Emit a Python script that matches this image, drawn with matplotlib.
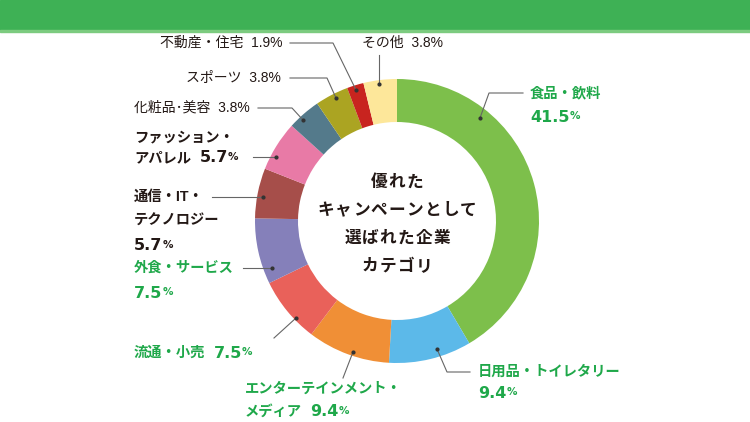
import matplotlib.pyplot as plt
from matplotlib.patches import Rectangle

plt.rcParams['font.family'] = ['Noto Sans CJK JP', 'DejaVu Sans']
label_fonts = ['Liberation Sans', 'Noto Sans CJK JP']

categories = ['食品・飲料', '日用品・トイレタリー', 'エンターテインメント・メディア', '流通・小売',
              '外食・サービス', '通信・IT・テクノロジー', 'ファッション・アパレル', '化粧品・美容',
              'スポーツ', '不動産・住宅', 'その他']
shares = [41.5, 9.4, 9.4, 7.5, 7.5, 5.7, 5.7, 3.8, 3.8, 1.9, 3.8]
colors = ['#7DBF4B', '#5CB9E9', '#F08F36', '#E9615A', '#8580BA', '#A64E4A',
          '#E87AA6', '#547A8B', '#ABA422', '#C8241F', '#FDE79A']

# label text as shown; the share goes after the last line
label_text = ['食品・飲料\n', '日用品・トイレタリー\n', 'エンターテインメント・\nメディア',
              '流通・小売', '外食・サービス\n', '通信・IT・\nテクノロジー\n',
              'ファッション・\nアパレル', '化粧品･美容', 'スポーツ',
              '不動産・住宅', 'その他']
highlight = [True, True, True, True, True, False, False, False, False, False, False]

center_title = ['優れた', 'キャンペーンとして', '選ばれた企業', 'カテゴリ']

# layout in pixels (x, y of each line, ha, big label?, leader path)
layout = [
    (530, [93, 117], 'left', True, [(480, 118), (489, 93), (523, 93)]),
    (478, [372, 393], 'left', True, [(437, 349), (447, 372), (470, 372)]),
    (245, [389, 412], 'left', True, [(353, 352), (343, 378)]),
    (134, [353], 'left', True, [(296, 318), (274, 338)]),
    (134, [268, 293], 'left', True, [(272, 268), (243, 268)]),
    (134, [197, 221, 246], 'left', True, [(263, 197), (212, 197)]),
    (134, [137, 158], 'left', True, [(276, 157), (253, 157)]),
    (134, [108], 'left', False, [(303, 120), (292, 108), (258, 108)]),
    (281, [78], 'right', False, [(336, 98), (327, 78), (290, 78)]),
    (282, [43], 'right', False, [(356, 90), (333, 43), (290, 43)]),
    (402, [43], 'center', False, [(379, 84), (379, 55)]),
]

green_txt = '#1FA84A'
dark_txt = '#231815'

fig = plt.figure(figsize=(7.5, 4.22), dpi=100)
ax = fig.add_axes([0, 0, 1, 1])

cx, cy, r_out, ring = 397, 221, 142, 43
ax.pie(shares, colors=colors, startangle=-90, counterclock=True,
       center=(cx, cy), radius=r_out,
       wedgeprops=dict(width=ring, linewidth=0))

ax.set_xlim(0, 750)
ax.set_ylim(422, 0)
ax.set_aspect('equal')
ax.axis('off')

# header bar
ax.add_patch(Rectangle((0, 0), 750, 30, color='#3EB155', zorder=5))
ax.add_patch(Rectangle((0, 30), 750, 1.5, color='#7CCB7F', zorder=5))


def big_value(x, y, anchor, col):
    num = f'{shares[i]}'
    if anchor is None:
        t = ax.text(x, y, num, ha='left', va='center', fontsize=11.5,
                    fontweight='bold', color=col, family='DejaVu Sans')
    else:
        t = ax.annotate(num, xy=(1, 0.5), xycoords=anchor, xytext=(6, 0),
                        textcoords='offset points', ha='left', va='center',
                        fontsize=11.5, fontweight='bold', color=col,
                        family='DejaVu Sans')
    ax.annotate('%', xy=(1, 0.22), xycoords=t, xytext=(0, 0),
                textcoords='offset points', va='bottom', ha='left',
                fontsize=7.5, fontweight='bold', color=col, family='DejaVu Sans')


for i, (x, ys, ha, big, path) in enumerate(layout):
    xs = [p[0] for p in path]
    yy = [p[1] for p in path]
    ax.plot(xs, yy, color='#666666', lw=0.8, zorder=6)
    ax.plot(xs[0], yy[0], 'o', color='#333333', ms=2, zorder=7)

    col = green_txt if highlight[i] else dark_txt
    lines = label_text[i].split('\n')
    if not big:
        ax.text(x, ys[0], f'{lines[0]}  {shares[i]}%', ha=ha, va='center',
                fontsize=10, color=col, family=label_fonts)
        continue
    for n, (line, y) in enumerate(zip(lines, ys)):
        last = n == len(lines) - 1
        if line:
            t = ax.text(x, y, line, ha=ha, va='center', fontsize=10.3,
                        fontweight='bold', color=col, family=label_fonts)
            if last:
                big_value(x, y, t, col)
        else:
            big_value(x, y, None, col)

# centre title, spaced out character by character
pitch = 17.8
for j, line in enumerate(center_title):
    n = len(line)
    for k, ch in enumerate(line):
        ax.text(cx + (k - (n - 1) / 2) * pitch, 182 + j * 28, ch, ha='center',
                va='center', fontsize=12, fontweight='bold', color=dark_txt)

plt.savefig('out.png', dpi=100)
